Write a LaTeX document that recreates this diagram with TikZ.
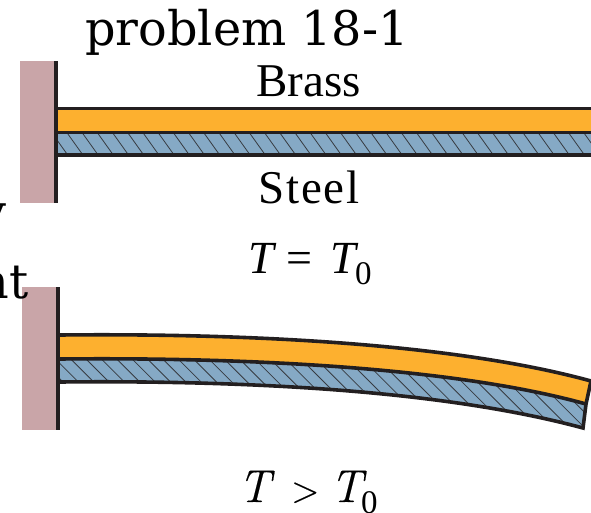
\documentclass[tikz,border=0pt]{standalone}
\usepackage{fontspec}
\setmainfont{Liberation Serif}
\newfontfamily\titlefont{DejaVu Serif}
\newfontfamily\steelfont[LetterSpace=4]{Liberation Serif}
\newfontfamily\modernfont[FakeBold=0.3]{Latin Modern Roman}
\definecolor{brassc}{HTML}{FDB02F}
\definecolor{steelc}{HTML}{85A9C5}
\definecolor{wallc}{HTML}{C9A5A8}
\definecolor{inkc}{HTML}{231F20}
\tikzset{
  wall/.style={fill=wallc,draw=none},
  strip line/.style={draw=inkc,line width=3.6pt,line join=miter},
  hatch/.style={draw=inkc!80!steelc,line width=0.8pt},
  label/.style={inner sep=0pt,anchor=base,font=\fontsize{47}{47}\selectfont},
  sym/.style={inner sep=0pt,anchor=base west,font=\fontsize{46}{46}\selectfont},
  sub/.style={inner sep=0pt,anchor=base west,font=\fontsize{33}{33}\selectfont},
  msym/.style={inner sep=0pt,anchor=base west,font=\modernfont\fontsize{46}{46}\selectfont},
  title/.style={inner sep=0pt,anchor=base west,font=\titlefont\fontsize{47.7}{48}\selectfont},
}
\begin{document}
\begin{tikzpicture}[x=1pt,y=-1pt]
\useasboundingbox (0,0) rectangle (591,513);
\clip (0,0) rectangle (591,513);
% upper figure
\fill[wall] (20,61) rectangle (54,203);
\fill[brassc] (58,108) rectangle (591,132);
\fill[steelc] (58,132) rectangle (591,155);
\begin{scope}
\clip (58,134) rectangle (591,153);
\foreach \x in {34.64,49.84,...,600} \draw[hatch] (\x,130) -- (\x+20,158);
\end{scope}
\draw[strip line] (58,108.5) -- (591,108.5);
\draw[strip line] (58,132.5) -- (591,132.5);
\draw[strip line] (58,155.3) -- (591,155.3);
\fill[inkc] (54,61) rectangle (58,203);
% lower figure
\fill[wall] (22,287) rectangle (56,430);
\fill[brassc] (60,335) .. controls (260,333) and (460,345) .. (591,381) -- (586,404) .. controls (460,369) and (260,357) .. (60,359) -- cycle;
\fill[steelc] (60,359) .. controls (260,357) and (460,369) .. (586,404) -- (583,428) .. controls (450,392) and (260,380) .. (60,382) -- cycle;
\begin{scope}
\clip (60,359) .. controls (260,357) and (460,369) .. (586,404) -- (583,428) .. controls (450,392) and (260,380) .. (60,382) -- cycle;
\foreach \x in {31,46.35,...,600} \draw[hatch] (\x,350) -- (\x+80,430);
\end{scope}
\draw[strip line] (60,335) .. controls (260,333) and (460,345) .. (591,381);
\draw[strip line] (60,359) .. controls (260,357) and (460,369) .. (586,404);
\draw[strip line] (591,381) -- (586,404) -- (583,428) .. controls (450,392) and (260,380) .. (60,382);
\fill[inkc] (56,287) rectangle (60,430);
% text
\node[title] (ttl) at (85,45.5) {problem 18-1};
\node[title,anchor=base east] (cutone) at (7,228) {y};
\node[title,anchor=base east] (cuttwo) at (29,298) {nt};
\node[label] (brass) at (308.5,97) {Brass};
\node[label,font=\steelfont\fontsize{47}{47}\selectfont] (steel) at (309,203) {Steel};
\node[sym] (t1) at (248,273) {\textit{T}};
\node[sym] (eq) at (286,273) {=};
\node[sym] (t2) at (330,273) {\textit{T}};
\node[sub] (z1) at (355,284) {0};
\node[msym] (t3) at (238,502) {\textit{T}};
\node[msym,font=\modernfont\fontsize{37}{37}\selectfont] (gt) at (291,502) {>};
\node[msym] (t4) at (330,502) {\textit{T}};
\node[sub] (z2) at (361,513) {0};
\end{tikzpicture}
\end{document}
